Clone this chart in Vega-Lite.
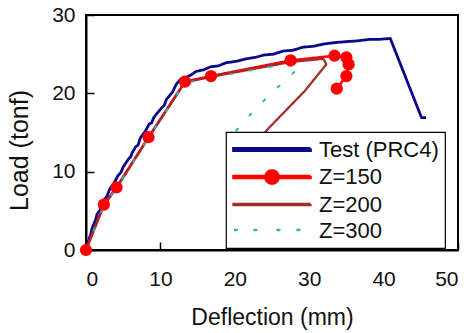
{
  "$schema": "https://vega.github.io/schema/vega-lite/v6.json",
  "width": 372,
  "height": 235,
  "autosize": "none",
  "padding": {"left": 86, "top": 15, "right": 15, "bottom": 83},
  "background": "white",
  "config": {
    "font": "Liberation Sans",
    "view": {"stroke": "black", "strokeWidth": 2},
    "axis": {"grid": false, "domainColor": "black", "domainWidth": 2, "tickColor": "black", "tickWidth": 1.5, "labelColor": "#111", "titleColor": "#111", "labelFont": "Liberation Sans", "titleFont": "Liberation Sans", "titleFontWeight": "normal", "zindex": 2}
  },
  "data": {"values": [
    {"s":"Test (PRC4)","i":0,"x":0,"y":0},
    {"s":"Test (PRC4)","i":1,"x":0.3,"y":1.1},
    {"s":"Test (PRC4)","i":2,"x":0.6,"y":1.9},
    {"s":"Test (PRC4)","i":3,"x":0.8,"y":2.7},
    {"s":"Test (PRC4)","i":4,"x":1.3,"y":3.9},
    {"s":"Test (PRC4)","i":5,"x":1.5,"y":4.6},
    {"s":"Test (PRC4)","i":6,"x":1.9,"y":5.1},
    {"s":"Test (PRC4)","i":7,"x":2.5,"y":6.5},
    {"s":"Test (PRC4)","i":8,"x":2.8,"y":6.8},
    {"s":"Test (PRC4)","i":9,"x":3.2,"y":7.8},
    {"s":"Test (PRC4)","i":10,"x":3.8,"y":8.6},
    {"s":"Test (PRC4)","i":11,"x":4.3,"y":9.5},
    {"s":"Test (PRC4)","i":12,"x":4.7,"y":9.9},
    {"s":"Test (PRC4)","i":13,"x":5.0,"y":10.6},
    {"s":"Test (PRC4)","i":14,"x":5.7,"y":11.6},
    {"s":"Test (PRC4)","i":15,"x":6.0,"y":11.9},
    {"s":"Test (PRC4)","i":16,"x":6.2,"y":12.4},
    {"s":"Test (PRC4)","i":17,"x":6.7,"y":13.2},
    {"s":"Test (PRC4)","i":18,"x":7.0,"y":13.4},
    {"s":"Test (PRC4)","i":19,"x":7.3,"y":14.3},
    {"s":"Test (PRC4)","i":20,"x":8.0,"y":15.2},
    {"s":"Test (PRC4)","i":21,"x":8.5,"y":16.1},
    {"s":"Test (PRC4)","i":22,"x":8.8,"y":16.2},
    {"s":"Test (PRC4)","i":23,"x":9.1,"y":16.9},
    {"s":"Test (PRC4)","i":24,"x":9.6,"y":17.5},
    {"s":"Test (PRC4)","i":25,"x":10.3,"y":18.3},
    {"s":"Test (PRC4)","i":26,"x":10.5,"y":18.4},
    {"s":"Test (PRC4)","i":27,"x":10.8,"y":19.2},
    {"s":"Test (PRC4)","i":28,"x":11.4,"y":19.9},
    {"s":"Test (PRC4)","i":29,"x":11.6,"y":20.1},
    {"s":"Test (PRC4)","i":30,"x":12.1,"y":21.1},
    {"s":"Test (PRC4)","i":31,"x":12.6,"y":21.7},
    {"s":"Test (PRC4)","i":32,"x":13.4,"y":22.0},
    {"s":"Test (PRC4)","i":33,"x":14.2,"y":22.4},
    {"s":"Test (PRC4)","i":34,"x":14.8,"y":22.8},
    {"s":"Test (PRC4)","i":35,"x":15.8,"y":23.0},
    {"s":"Test (PRC4)","i":36,"x":16.8,"y":23.4},
    {"s":"Test (PRC4)","i":37,"x":17.8,"y":23.5},
    {"s":"Test (PRC4)","i":38,"x":18.8,"y":23.9},
    {"s":"Test (PRC4)","i":39,"x":20.3,"y":24.1},
    {"s":"Test (PRC4)","i":40,"x":21.5,"y":24.4},
    {"s":"Test (PRC4)","i":41,"x":22.8,"y":24.6},
    {"s":"Test (PRC4)","i":42,"x":24.0,"y":24.9},
    {"s":"Test (PRC4)","i":43,"x":25.2,"y":25.0},
    {"s":"Test (PRC4)","i":44,"x":26.5,"y":25.4},
    {"s":"Test (PRC4)","i":45,"x":27.8,"y":25.5},
    {"s":"Test (PRC4)","i":46,"x":29.2,"y":25.9},
    {"s":"Test (PRC4)","i":47,"x":30.5,"y":26.0},
    {"s":"Test (PRC4)","i":48,"x":32.0,"y":26.3},
    {"s":"Test (PRC4)","i":49,"x":33.7,"y":26.5},
    {"s":"Test (PRC4)","i":50,"x":35.0,"y":26.6},
    {"s":"Test (PRC4)","i":51,"x":36.5,"y":26.7},
    {"s":"Test (PRC4)","i":52,"x":38.2,"y":26.9},
    {"s":"Test (PRC4)","i":53,"x":39.5,"y":26.9},
    {"s":"Test (PRC4)","i":54,"x":40.9,"y":27.0},
    {"s":"Test (PRC4)","i":55,"x":45.1,"y":16.9},
    {"s":"Test (PRC4)","i":56,"x":45.7,"y":16.9},
    {"s":"Z=150","i":0,"x":0,"y":0},
    {"s":"Z=150","i":1,"x":2.4,"y":5.8},
    {"s":"Z=150","i":2,"x":4.1,"y":8.0},
    {"s":"Z=150","i":3,"x":8.4,"y":14.4},
    {"s":"Z=150","i":4,"x":13.3,"y":21.5},
    {"s":"Z=150","i":5,"x":16.8,"y":22.2},
    {"s":"Z=150","i":6,"x":27.5,"y":24.2},
    {"s":"Z=150","i":7,"x":33.4,"y":24.8},
    {"s":"Z=150","i":8,"x":35.0,"y":24.6},
    {"s":"Z=150","i":9,"x":35.3,"y":23.7},
    {"s":"Z=150","i":10,"x":35.0,"y":22.2},
    {"s":"Z=150","i":11,"x":33.7,"y":20.6},
    {"s":"Z=200","i":0,"x":0,"y":0},
    {"s":"Z=200","i":1,"x":2.4,"y":5.7},
    {"s":"Z=200","i":2,"x":4.1,"y":7.9},
    {"s":"Z=200","i":3,"x":8.4,"y":14.3},
    {"s":"Z=200","i":4,"x":13.3,"y":21.4},
    {"s":"Z=200","i":5,"x":16.8,"y":22.1},
    {"s":"Z=200","i":6,"x":27.5,"y":24.0},
    {"s":"Z=200","i":7,"x":31.9,"y":24.4},
    {"s":"Z=200","i":8,"x":32.3,"y":23.7},
    {"s":"Z=200","i":9,"x":29.4,"y":20.3},
    {"s":"Z=200","i":10,"x":24.5,"y":15.5},
    {"s":"Z=200","i":11,"x":22.5,"y":13.3},
    {"s":"Z=300","i":0,"x":0,"y":0},
    {"s":"Z=300","i":1,"x":2.4,"y":5.7},
    {"s":"Z=300","i":2,"x":4.1,"y":7.9},
    {"s":"Z=300","i":3,"x":8.4,"y":14.3},
    {"s":"Z=300","i":4,"x":13.2,"y":21.3},
    {"s":"Z=300","i":5,"x":16.8,"y":22.0},
    {"s":"Z=300","i":6,"x":22.0,"y":22.9},
    {"s":"Z=300","i":7,"x":26.0,"y":23.6},
    {"s":"Z=300","i":8,"x":28.8,"y":23.5},
    {"s":"Z=300","i":9,"x":27.0,"y":21.8},
    {"s":"Z=300","i":10,"x":25.2,"y":20.3},
    {"s":"Z=300","i":11,"x":23.2,"y":18.4},
    {"s":"Z=300","i":12,"x":21.3,"y":16.5},
    {"s":"Z=300","i":13,"x":20.0,"y":15.0}
  ]},
  "encoding": {
    "x": {"field": "x", "type": "quantitative", "scale": {"domain": [0, 50], "nice": false},
      "axis": {"values": [0, 10, 20, 30, 40, 50], "tickSize": -8, "labelPadding": 26, "labelFontSize": 21, "title": "Deflection (mm)", "titleFontSize": 23, "titleBaseline": "top", "titleY": 56}},
    "y": {"field": "y", "type": "quantitative", "scale": {"domain": [0, 30], "nice": false},
      "axis": {"values": [0, 10, 20, 30], "tickSize": -8, "labelPadding": 19, "labelFontSize": 21, "title": "Load (tonf)", "titleFontSize": 25, "titleAngle": 270, "titleBaseline": "middle", "titleAlign": "center", "titleX": -67, "titleY": 135}}
  },
  "layer": [
    {
      "mark": {"type": "line", "strokeJoin": "round"},
      "encoding": {
        "order": {"field": "i", "type": "quantitative"},
        "color": {"field": "s", "type": "nominal",
          "scale": {"domain": ["Test (PRC4)", "Z=150", "Z=200", "Z=300"], "range": ["#0a0a88", "#ff0000", "#a32b2b", "#33b0b0"]},
          "legend": {
            "title": null, "orient": "none", "legendX": 140, "legendY": 117, "zindex": 1,
            "fillColor": "white", "strokeColor": "black",
            "padding": 6, "rowPadding": 3.5, "symbolSize": 400, "labelOffset": 64,
            "labelFontSize": 22, "labelColor": "#111", "labelFont": "Liberation Sans", "labelLimit": 300,
            "encode": {
              "legend": {"update": {"strokeWidth": {"value": 1.2}}},
              "symbols": {"update": {
              "fill": {"scale": "color", "field": "value"},
              "stroke": {"value": "transparent"},
              "strokeWidth": {"value": 0},
              "opacity": {"value": 1},
              "shape": {"signal": "datum.value == 'Test (PRC4)' ? 'M-1,-0.11H6.7V0.11H-1Z' : datum.value == 'Z=150' ? 'M-1,-0.09H6.7V0.09H-1Z M2.85,-0.66A0.66,0.66 0 1,1 2.85,0.66A0.66,0.66 0 1,1 2.85,-0.66Z' : datum.value == 'Z=200' ? 'M-1,-0.06H6.7V0.06H-1Z' : 'M-0.95,-0.07H-0.65V0.07H-0.95Z M1,-0.07H1.3V0.07H1Z M3.3,-0.07H3.6V0.07H3.3Z M5.3,-0.07H5.6V0.07H5.3Z'"}
            }}}
          }},
        "strokeDash": {"field": "s", "type": "nominal", "legend": null,
          "scale": {"domain": ["Test (PRC4)", "Z=150", "Z=200", "Z=300"], "range": [[1, 0], [1, 0], [1, 0], [4, 16]]}},
        "strokeWidth": {"field": "s", "type": "nominal", "legend": null,
          "scale": {"domain": ["Test (PRC4)", "Z=150", "Z=200", "Z=300"], "range": [2.8, 2, 1.2, 1.6]}}
      }
    },
    {
      "transform": [{"filter": "datum.s == 'Z=150'"}],
      "mark": {"type": "circle", "color": "#ff0000", "opacity": 1, "size": 150}
    }
  ]
}
